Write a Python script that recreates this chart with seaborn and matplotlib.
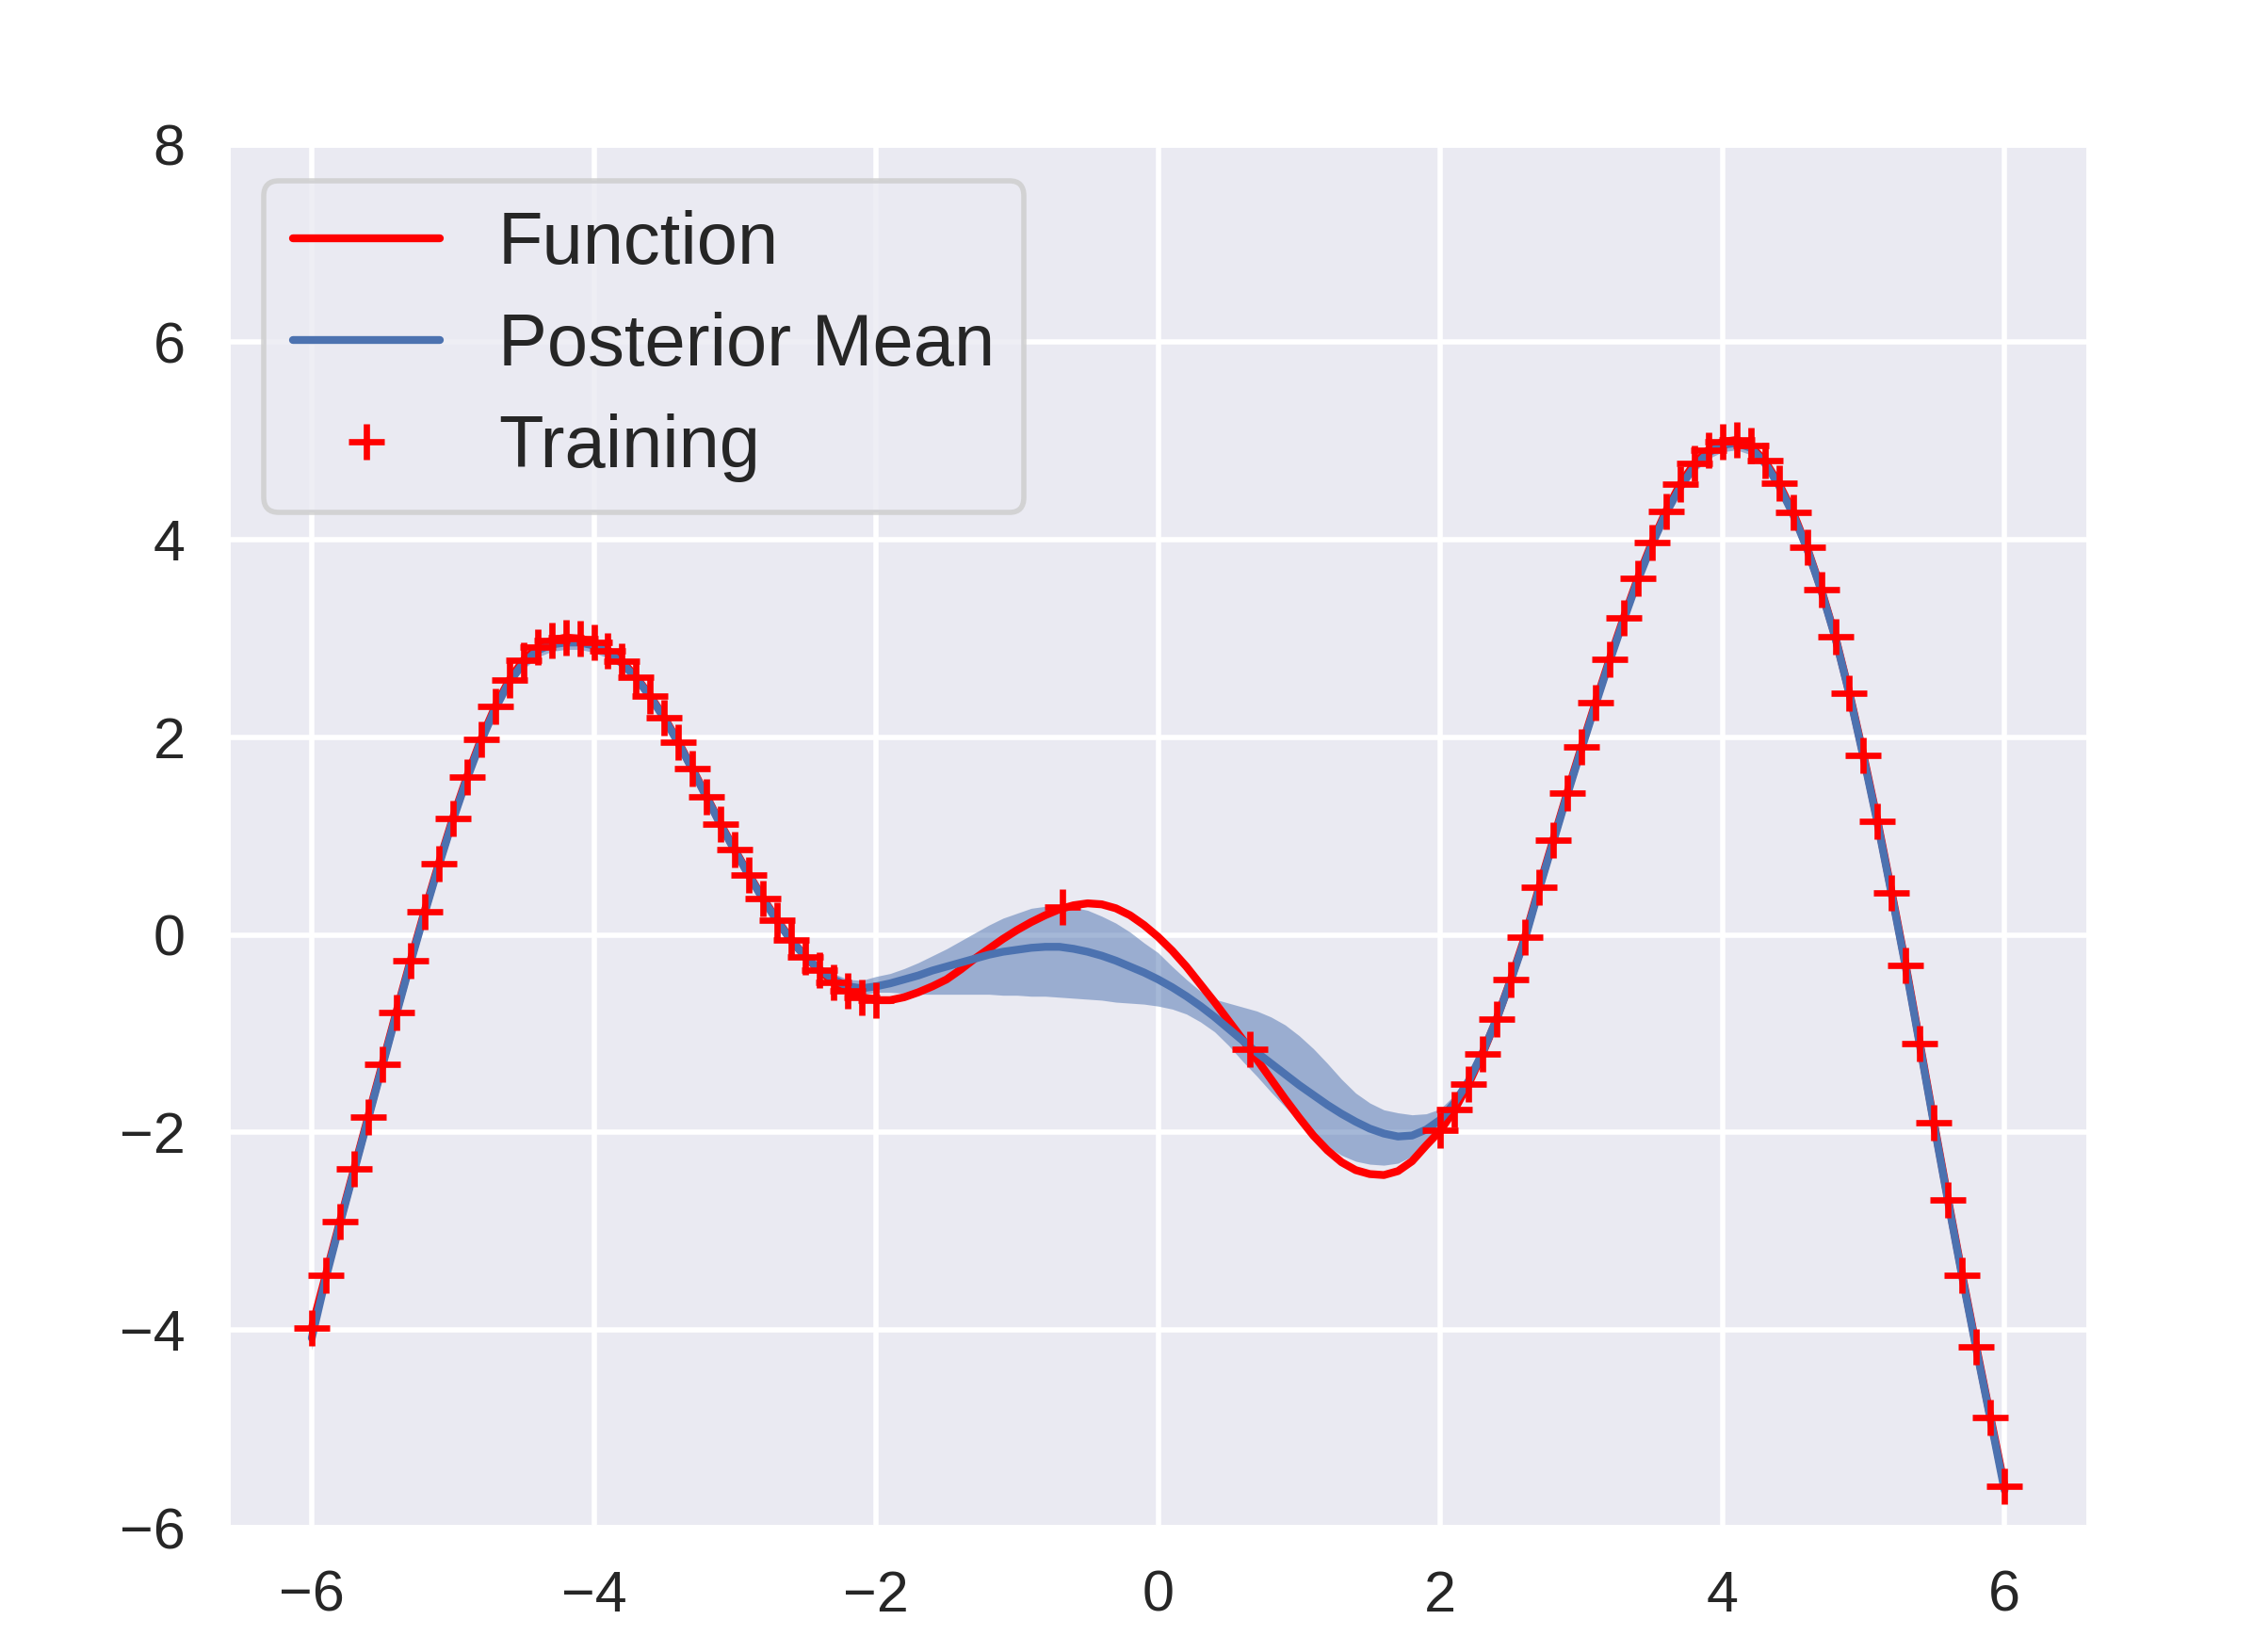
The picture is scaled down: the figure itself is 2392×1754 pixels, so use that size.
import numpy as np
import pandas as pd
import matplotlib
matplotlib.use("Agg")
import matplotlib.pyplot as plt
import seaborn as sns

# ---------------- data ----------------
grid_x = np.linspace(-6.0, 6.0, 121)          # sampling positions, step 0.1

function_y = [
    -3.98, -3.44, -2.90, -2.37, -1.84, -1.31, -0.78, -0.26, 0.24, 0.72,
    1.18, 1.60, 1.98, 2.31, 2.58, 2.78, 2.91, 2.98, 3.01, 3.00,
    2.96, 2.88, 2.77, 2.61, 2.42, 2.20, 1.95, 1.68, 1.40, 1.12,
    0.86, 0.61, 0.37, 0.15, -0.05, -0.22, -0.36, -0.48, -0.57, -0.63,
    -0.66, -0.66, -0.63, -0.58, -0.52, -0.45, -0.35, -0.24, -0.14, -0.04,
    0.05, 0.13, 0.20, 0.26, 0.30, 0.32, 0.31, 0.27, 0.20, 0.10,
    -0.02, -0.16, -0.32, -0.50, -0.68, -0.87, -1.06, -1.26, -1.46, -1.66,
    -1.85, -2.03, -2.18, -2.30, -2.38, -2.42, -2.43, -2.39, -2.29, -2.13,
    -1.98, -1.77, -1.51, -1.20, -0.85, -0.45, -0.02, 0.48, 0.96, 1.44,
    1.90, 2.35, 2.79, 3.21, 3.61, 3.97, 4.29, 4.56, 4.77, 4.91,
    4.99, 5.01, 4.95, 4.80, 4.57, 4.28, 3.92, 3.50, 3.02, 2.45,
    1.82, 1.15, 0.43, -0.31, -1.10, -1.90, -2.68, -3.44, -4.17, -4.88,
    -5.58,
]

posterior_mean = [
    -4.08, -3.47, -2.92, -2.39, -1.86, -1.33, -0.80, -0.28, 0.22, 0.70,
    1.16, 1.58, 1.96, 2.29, 2.56, 2.75, 2.88, 2.94, 2.96, 2.96,
    2.93, 2.86, 2.75, 2.60, 2.41, 2.19, 1.94, 1.67, 1.39, 1.11,
    0.85, 0.60, 0.36, 0.14, -0.06, -0.22, -0.35, -0.45, -0.52, -0.54,
    -0.52, -0.49, -0.45, -0.41, -0.36, -0.32, -0.28, -0.24, -0.20, -0.17,
    -0.15, -0.13, -0.12, -0.12, -0.14, -0.17, -0.21, -0.26, -0.32, -0.38,
    -0.45, -0.53, -0.62, -0.72, -0.83, -0.95, -1.07, -1.19, -1.30, -1.41,
    -1.52, -1.62, -1.72, -1.81, -1.89, -1.96, -2.01, -2.04, -2.03, -1.97,
    -1.87, -1.70, -1.48, -1.19, -0.85, -0.46, -0.04, 0.46, 0.94, 1.42,
    1.88, 2.33, 2.77, 3.19, 3.59, 3.95, 4.27, 4.53, 4.74, 4.88,
    4.96, 4.98, 4.93, 4.78, 4.55, 4.26, 3.91, 3.49, 3.01, 2.44,
    1.80, 1.13, 0.41, -0.33, -1.12, -1.92, -2.70, -3.46, -4.19, -4.90,
    -5.62,
]

# half width of the confidence band where it is thin (x = -6.0 ... -2.2)
band_half_left = [
    0.12, 0.08, 0.06, 0.05, 0.05, 0.05, 0.05, 0.05, 0.05, 0.05,
    0.05, 0.05, 0.05, 0.05, 0.05, 0.06, 0.07, 0.07, 0.07, 0.07,
    0.07, 0.06, 0.05, 0.05, 0.05, 0.05, 0.05, 0.05, 0.05, 0.05,
    0.05, 0.05, 0.05, 0.05, 0.05, 0.05, 0.05, 0.06, 0.07,
]
# band edges in the gap between the training clusters (x = -2.1 ... 2.1)
band_upper_mid = [
    -0.46, -0.42, -0.39, -0.34, -0.28, -0.21, -0.14, -0.06, 0.02, 0.10,
    0.17, 0.22, 0.27, 0.29, 0.30, 0.28, 0.25, 0.19, 0.12, 0.03,
    -0.08, -0.18, -0.32, -0.45, -0.57, -0.65, -0.69, -0.73, -0.77, -0.83,
    -0.91, -1.02, -1.15, -1.30, -1.46, -1.60, -1.70, -1.77, -1.80, -1.82,
    -1.81, -1.76, -1.62,
]
band_lower_mid = [
    -0.61, -0.58, -0.58, -0.59, -0.60, -0.60, -0.60, -0.60, -0.60, -0.60,
    -0.61, -0.61, -0.62, -0.62, -0.63, -0.64, -0.65, -0.66, -0.68, -0.69,
    -0.70, -0.72, -0.75, -0.80, -0.88, -0.98, -1.12, -1.28, -1.43, -1.59,
    -1.74, -1.89, -2.03, -2.14, -2.23, -2.29, -2.32, -2.33, -2.31, -2.24,
    -2.12, -1.98, -1.78,
]
# half width of the band on the right (x = 2.2 ... 6.0)
band_half_right = [
    0.07, 0.05, 0.05, 0.05, 0.05, 0.05, 0.05, 0.05, 0.05, 0.05,
    0.05, 0.05, 0.05, 0.05, 0.05, 0.05, 0.06, 0.06, 0.07, 0.07,
    0.07, 0.06, 0.05, 0.05, 0.05, 0.05, 0.05, 0.05, 0.05, 0.05,
    0.05, 0.05, 0.05, 0.05, 0.05, 0.05, 0.06, 0.08, 0.12,
]

train_x = list(np.linspace(-6.0, -2.0, 41)) + [-0.68, 0.65] + list(np.linspace(2.0, 6.0, 41))
train_y = [
    -3.98, -3.44, -2.90, -2.37, -1.84, -1.31, -0.78, -0.26, 0.24, 0.72,
    1.18, 1.60, 1.98, 2.31, 2.58, 2.78, 2.91, 2.98, 3.01, 3.00,
    2.96, 2.88, 2.77, 2.61, 2.42, 2.20, 1.95, 1.68, 1.40, 1.12,
    0.86, 0.61, 0.37, 0.15, -0.05, -0.22, -0.36, -0.48, -0.57, -0.63,
    -0.66,
    0.28, -1.16,
    -1.98, -1.77, -1.51, -1.20, -0.85, -0.45, -0.02, 0.48, 0.96, 1.44,
    1.90, 2.35, 2.79, 3.21, 3.61, 3.97, 4.29, 4.56, 4.77, 4.91,
    4.99, 5.01, 4.95, 4.80, 4.57, 4.28, 3.92, 3.50, 3.02, 2.45,
    1.82, 1.15, 0.43, -0.31, -1.10, -1.90, -2.68, -3.44, -4.17, -4.88,
    -5.58,
]

# ---------------- assemble band ----------------
mean_arr = np.array(posterior_mean)
band_lower = np.concatenate([mean_arr[:39] - np.array(band_half_left),
                             np.array(band_lower_mid),
                             mean_arr[82:] - np.array(band_half_right)])
band_upper = np.concatenate([mean_arr[:39] + np.array(band_half_left),
                             np.array(band_upper_mid),
                             mean_arr[82:] + np.array(band_half_right)])

curves = pd.DataFrame({"x": grid_x, "function": function_y, "mean": posterior_mean})

# ---------------- plot ----------------
sns.set_theme(style="darkgrid")
plt.rcParams["font.family"] = ["Liberation Sans", "DejaVu Sans"]

BLUE = "#4C72B0"
RED = "#FF0000"

fig = plt.figure(figsize=(2392 / 400, 1754 / 400), dpi=400)
ax = fig.add_axes([0.1008, 0.0752, 0.8265, 0.8373])

ax.fill_between(curves["x"], band_lower, band_upper, color=BLUE, alpha=0.5, linewidth=0)
sns.lineplot(data=curves, x="x", y="function", color=RED, linewidth=1.5,
             label="Function", ax=ax, estimator=None, sort=False)
sns.lineplot(data=curves, x="x", y="mean", color=BLUE, linewidth=1.5,
             label="Posterior Mean", ax=ax, estimator=None, sort=False)
ax.plot(train_x, train_y, linestyle="none", marker="+", color=RED,
        markersize=7, markeredgewidth=1.2, label="Training")

ax.set_xlim(-6.6, 6.6)
ax.set_ylim(-6, 8)
ax.set_xticks([-6, -4, -2, 0, 2, 4, 6])
ax.set_yticks([-6, -4, -2, 0, 2, 4, 6, 8])
ax.set_xlabel("")
ax.set_ylabel("")
ax.tick_params(axis="both", pad=2.0)
ax.legend(loc="upper left", fontsize=14, labelspacing=0.45)

fig.savefig("out.png", dpi=400)
